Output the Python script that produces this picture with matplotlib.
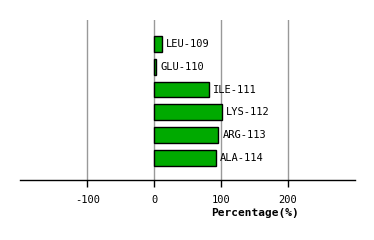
import matplotlib
matplotlib.use("Agg")
import matplotlib.pyplot as plt

# residues and their percentages
residues = ["LEU-109", "GLU-110", "ILE-111", "LYS-112", "ARG-113", "ALA-114"]
values = [12, 3, 82, 101, 96, 92]
ticks = [-100, 0, 100, 200]

plt.rcParams['font.family'] = ['DejaVu Sans Mono']

fig = plt.figure(figsize=(3.74, 2.4), dpi=100)
ax = fig.add_axes([20 / 374, 60 / 240, 335 / 374, 160 / 240])

pos = list(range(len(residues)))
ax.barh(pos, values, height=0.69, color="#00aa00", edgecolor="black", linewidth=1, zorder=3)

# labels at the end of each bar
for p, v, name in zip(pos, values, residues):
    ax.annotate(name, (v, p), xytext=(3, 0), textcoords="offset points",
                va="center", ha="left", fontsize=7.5)

ax.set_xlim(-201, 301)
ax.set_ylim(5.98, -1.06)
ax.set_xticks(ticks)
ax.set_xticklabels([str(t) for t in ticks], fontsize=7.5)
ax.set_yticks([])
for t in ticks:
    ax.axvline(t, color="#999999", linewidth=1, zorder=1)

for s in ["top", "right", "left"]:
    ax.spines[s].set_visible(False)
ax.spines["bottom"].set_linewidth(1)
ax.tick_params(axis="x", direction="out", length=5, width=1, pad=6)
ax.set_xlabel("Percentage(%)", fontsize=8, fontweight="bold")
ax.xaxis.set_label_coords((255 - 20) / 335, -28 / 160)

fig.savefig("out.png", dpi=100)
